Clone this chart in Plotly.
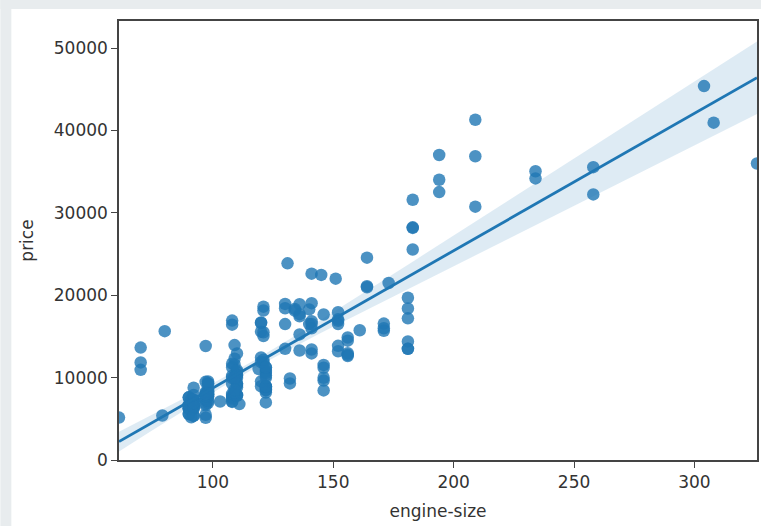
import numpy as np
import plotly.graph_objects as go

# engine-size and price (automobile dataset, rows with price)
engine_size = [
    130, 130, 152, 109, 136, 136, 136, 136, 131, 108, 108, 164, 164, 164, 209, 209, 209,
    61, 90, 90, 90, 90, 98, 90, 90, 90, 98, 122, 156,
    92, 92, 79, 92, 92, 92, 92, 110, 110, 110, 110, 110, 110,
    111, 119, 258, 258, 326,
    91, 91, 91, 91, 91, 70, 70, 70, 80, 122, 122, 122, 122, 122, 122, 140, 134,
    183, 183, 183, 183, 234, 234, 308, 304, 140,
    92, 92, 92, 98, 110, 122, 156, 156, 156, 122, 122, 110, 110,
    97, 103, 97, 97, 97, 97, 97, 97, 97, 97, 120, 120, 181, 181, 181, 181, 181, 181,
    120, 152, 120, 152, 120, 152, 120, 152, 120, 152, 134,
    90, 98, 90, 90, 90, 122, 156,
    151, 194, 194, 194, 132, 132,
    121, 121, 121, 121, 121, 121,
    97, 108, 108, 108, 108, 108, 108, 108, 108, 108, 108, 108,
    92, 92, 92, 92, 92, 92, 98, 98, 110, 110, 98, 98, 98, 98, 98, 98, 98,
    146, 146, 146, 146, 146, 146, 122, 110, 122, 110, 122, 171, 171, 171, 161,
    97, 109, 97, 109, 109, 97, 109, 109, 109, 136, 97, 109,
    141, 141, 141, 141, 130, 130, 141, 141, 173, 145, 141,
]
price = [
    13495, 16500, 16500, 13950, 17450, 15250, 17710, 18920, 23875, 16430, 16925, 20970, 21105, 24565, 30760, 41315, 36880,
    5151, 6295, 6575, 5572, 6377, 7957, 6229, 6692, 7609, 8558, 8921, 12964,
    6479, 6855, 5399, 6529, 7129, 7295, 7295, 7895, 9095, 8845, 10295, 12945, 10345,
    6785, 11048, 32250, 35550, 36000,
    5195, 6095, 6795, 6695, 7395, 10945, 11845, 13645, 15645, 8845, 8495, 10595, 10245, 10795, 11245, 18280, 18344,
    25552, 28248, 28176, 31600, 34184, 35056, 40960, 45400, 16503,
    5389, 6189, 6669, 7689, 9959, 8499, 12629, 14869, 14489, 6989, 8189, 9279, 9279,
    5499, 7099, 6649, 6849, 7349, 7299, 7799, 7499, 7999, 8249, 8949, 9549, 13499, 14399, 13499, 17199, 19699, 18399,
    11900, 13200, 12440, 13860, 15580, 16900, 16695, 17075, 16630, 17950, 18150,
    5572, 7957, 6229, 6692, 7609, 8921, 12764,
    22018, 32528, 34028, 37028, 9295, 9895,
    11850, 12170, 15040, 15510, 18150, 18620,
    5118, 7053, 7603, 7126, 7775, 9960, 9233, 11259, 7463, 10198, 8013, 11694,
    5348, 6338, 6488, 6918, 7898, 8778, 6938, 7198, 7898, 7788, 7738, 8358, 9258, 8058, 8238, 9298, 9538,
    8449, 9639, 9989, 11199, 11549, 17669, 8948, 10698, 9988, 10898, 11248, 16558, 15998, 15690, 15750,
    7775, 7975, 7995, 8195, 8495, 9495, 9995, 11595, 9980, 13295, 13845, 12290,
    12940, 13415, 15985, 16515, 18420, 18950, 16845, 19045, 21485, 22470, 22625,
]
x_ticks = [100, 150, 200, 250, 300]
y_ticks = [0, 10000, 20000, 30000, 40000, 50000]

x = np.array(engine_size, float)
y = np.array(price, float)
n = len(x)
X = np.column_stack([np.ones(n), x])
beta, *_ = np.linalg.lstsq(X, y, rcond=None)
resid = y - X @ beta
XtX_inv = np.linalg.inv(X.T @ X)
h = np.einsum("ij,jk,ik->i", X, XtX_inv, X)
meat = (X * (resid / (1 - h))[:, None] ** 2).T @ X
cov = XtX_inv @ meat @ XtX_inv
xg = np.linspace(61, 326, 100)
Xg = np.column_stack([np.ones_like(xg), xg])
yg = Xg @ beta
se = np.sqrt(np.einsum("ij,jk,ik->i", Xg, cov, Xg))
lo, hi = yg - 1.97 * se, yg + 1.97 * se

blue = "#1f77b4"
fig = go.Figure()
fig.add_trace(go.Scatter(x=np.concatenate([xg, xg[::-1]]), y=np.concatenate([hi, lo[::-1]]),
                         fill="toself", fillcolor="rgba(31,119,180,0.15)", line=dict(width=0),
                         mode="lines", hoverinfo="skip", showlegend=False))
fig.add_trace(go.Scatter(x=x, y=y, mode="markers",
                         marker=dict(size=12.5, color=blue, opacity=0.8, line=dict(width=0)),
                         showlegend=False))
fig.add_trace(go.Scatter(x=xg, y=yg, mode="lines", line=dict(color=blue, width=2.8),
                         showlegend=False))

W, H = 763, 526
L, R, T, B = 119, 4, 21, 66
pw, ph = W - L - R, H - T - B
gray = "#e8ecee"
fig.add_shape(type="rect", xref="paper", yref="paper", x0=-L / pw, x1=(11 - L) / pw,
              y0=-B / ph, y1=1 + T / ph, fillcolor=gray, line=dict(width=0), layer="below")
fig.add_shape(type="rect", xref="paper", yref="paper", x0=-L / pw, x1=1 + R / pw,
              y0=1 + (T - 9) / ph, y1=1 + T / ph, fillcolor=gray, line=dict(width=0), layer="below")

font = dict(family="DejaVu Sans", size=17, color="#333333")
fig.update_layout(
    width=W, height=H, margin=dict(l=L, r=R, t=T, b=B),
    paper_bgcolor="white", plot_bgcolor="white", showlegend=False,
    font=font,
    xaxis=dict(range=[61, 326], tickvals=x_ticks, showgrid=False, zeroline=False,
               showline=True, linecolor="#444444", linewidth=1.5, mirror=True,
               ticks="outside", ticklen=6, tickcolor="#444444", tickformat="d",
               title=dict(text="engine-size", font=dict(size=17), standoff=14)),
    yaxis=dict(range=[0, 53300], tickvals=y_ticks, showgrid=False, zeroline=False,
               showline=True, linecolor="#444444", linewidth=1.5, mirror=True,
               ticks="outside", ticklen=6, tickcolor="#444444", tickformat="d",
               title=dict(text="price", font=dict(size=17), standoff=16)),
)
fig.write_html("out.html")
